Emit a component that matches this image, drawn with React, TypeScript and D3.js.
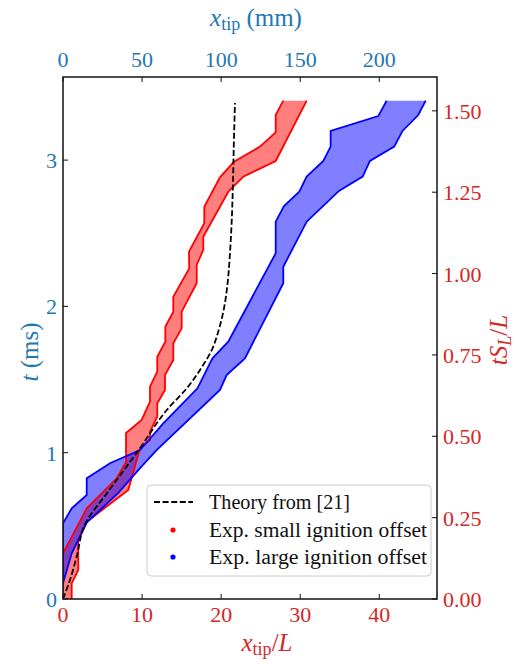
import React from "react";
import * as d3 from "d3";

// Flame tip position x_tip/L versus time t (ms); bands are bounded by left/right edges.
// Each edge: [x_tip/L, t (ms)] from bottom to top.
const redLeft: [number, number][] = [
  [0, 0], [0, 0.312], [3.0, 0.62], [6.79, 0.825], [7.97, 0.936], [7.97, 1.135],
  [9.95, 1.224], [11.0, 1.349], [11.0, 1.451], [11.92, 1.554], [11.92, 1.656],
  [12.94, 1.759], [12.94, 1.861], [13.95, 1.964], [13.95, 2.066], [15.97, 2.26],
  [15.93, 2.374], [17.87, 2.568], [17.87, 2.681], [19.85, 2.882], [21.62, 2.989],
  [24.91, 3.092], [26.9, 3.19], [26.9, 3.308], [27.86, 3.406],
];
const redRight: [number, number][] = [
  [1.1, 0], [1.1, 0.107], [1.93, 0.198], [1.93, 0.403], [3.0, 0.528], [8.26, 0.745],
  [9.74, 1.03], [11.0, 1.087], [11.0, 1.144], [11.92, 1.246], [11.92, 1.338],
  [12.9, 1.429], [12.9, 1.531], [13.95, 1.634], [13.95, 1.748], [15.01, 1.85],
  [15.01, 1.964], [16.91, 2.158], [16.91, 2.283], [17.74, 2.386], [17.74, 2.476],
  [20.9, 2.784], [22.8, 2.887], [26.9, 2.994], [30.82, 3.406],
];
const blueLeft: [number, number][] = [
  [0, 0.107], [0, 0.517], [1.1, 0.62], [3.0, 0.711], [3.0, 0.825], [5.94, 0.928],
  [9.74, 1.018], [12.68, 1.201], [17.0, 1.44], [18.9, 1.645], [20.9, 1.759],
  [26.9, 2.363], [26.9, 2.579], [27.95, 2.686], [29.88, 2.784], [30.82, 2.887],
  [32.92, 2.994], [33.85, 3.092], [33.85, 3.2], [39.87, 3.301], [40.93, 3.406],
];
const blueRight: [number, number][] = [
  [0, 0.107], [1.1, 0.312], [3.0, 0.523], [6.99, 0.725], [9.74, 0.895], [11.87, 1.02],
  [19.85, 1.429], [20.7, 1.531], [23.01, 1.645], [27.86, 2.158], [27.86, 2.271],
  [30.82, 2.579], [34.9, 2.789], [37.9, 2.887], [38.82, 2.994], [41.89, 3.092],
  [42.96, 3.201], [44.93, 3.308], [45.87, 3.406],
];
// Theory curve from [21]
const theory: [number, number][] = [
  [0, 0], [0.88, 0.13], [1.73, 0.29], [2.77, 0.51], [5.51, 0.72], [9.6, 1.02],
  [13.1, 1.29], [15.8, 1.45], [17.5, 1.58], [18.8, 1.7], [19.7, 1.84], [20.3, 1.97],
  [20.8, 2.15], [21.1, 2.35], [21.35, 2.6], [21.5, 2.85], [21.6, 3.1], [21.75, 3.39],
];

const bottomTicks = [0, 10, 20, 30, 40];
const topTicks = [0, 50, 100, 150, 200];
const leftTicks = [0, 1, 2, 3];
const rightTicks = [0, 0.25, 0.5, 0.75, 1.0, 1.25, 1.5];

const legendLabels = ["Theory from [21]", "Exp. small ignition offset", "Exp. large ignition offset"];
const legendWidths = [141, 218, 218];

const W = 517;
const H = 664;
const M = { left: 63, right: 437, top: 77, bottom: 599 };
const BLUE_TXT = "#1f77b4";
const RED_TXT = "#d62728";
const FONT = "'Liberation Serif', 'Times New Roman', serif";

export default function App() {
  const x = d3.scaleLinear().domain([0, 47.3]).range([M.left, M.right]);
  const xTop = d3.scaleLinear().domain([0, 47.3 * 5]).range([M.left, M.right]);
  const y = d3.scaleLinear().domain([0, 3.568]).range([M.bottom, M.top]);
  const yR = d3.scaleLinear().domain([0, 1.604]).range([M.bottom, M.top]);

  const line = d3.line<[number, number]>().x((d) => x(d[0])).y((d) => y(d[1]));
  const theoryLine = d3
    .line<[number, number]>()
    .x((d) => x(d[0]))
    .y((d) => y(d[1]))
    .curve(d3.curveMonotoneY);
  const band = (l: [number, number][], r: [number, number][]) =>
    line([...l, ...r.slice().reverse()]) + "Z";

  const tl = 5;
  const fs = 22;
  const lfs = 25;
  const sw = 1.8;

  return (
    <svg
      width={W}
      height={H}
      style={{ position: "absolute", left: 0, top: 0, background: "#fff" }}
      fontFamily={FONT}
    >
      <rect width={W} height={H} fill="#fff" />
      <defs>
        <clipPath id="plot">
          <rect x={M.left} y={M.top} width={M.right - M.left} height={M.bottom - M.top} />
        </clipPath>
      </defs>

      <g clipPath="url(#plot)">
        <path d={band(redLeft, redRight)} fill="#ff0000" fillOpacity={0.5} />
        <path d={band(blueLeft, blueRight)} fill="#0000ff" fillOpacity={0.5} />
        <path d={line(redLeft)!} fill="none" stroke="#ff0000" strokeWidth={sw} />
        <path d={line(redRight)!} fill="none" stroke="#ff0000" strokeWidth={sw} />
        <path d={line(blueLeft)!} fill="none" stroke="#0000ff" strokeWidth={sw} />
        <path d={line(blueRight)!} fill="none" stroke="#0000ff" strokeWidth={sw} />
        <path
          d={theoryLine(theory)!}
          fill="none"
          stroke="#000"
          strokeWidth={sw}
          strokeDasharray="6,2.6"
        />
      </g>

      {/* frame */}
      <rect
        x={M.left}
        y={M.top}
        width={M.right - M.left}
        height={M.bottom - M.top}
        fill="none"
        stroke="#111"
        strokeWidth={1.5}
      />

      {/* bottom axis */}
      {bottomTicks.map((v) => (
        <g key={"b" + v}>
          <line x1={x(v)} x2={x(v)} y1={M.bottom} y2={M.bottom - tl} stroke="#111" strokeWidth={1} />
          <text x={x(v)} y={M.bottom + 23} textAnchor="middle" fontSize={fs} fill={RED_TXT}>
            {v}
          </text>
        </g>
      ))}
      {/* top axis */}
      {topTicks.map((v) => (
        <g key={"t" + v}>
          <line x1={xTop(v)} x2={xTop(v)} y1={M.top} y2={M.top + tl} stroke="#111" strokeWidth={1} />
          <text x={xTop(v)} y={M.top - 10} textAnchor="middle" fontSize={fs} fill={BLUE_TXT}>
            {v}
          </text>
        </g>
      ))}
      {/* left axis */}
      {leftTicks.map((v) => (
        <g key={"l" + v}>
          <line x1={M.left} x2={M.left + tl} y1={y(v)} y2={y(v)} stroke="#111" strokeWidth={1} />
          <text x={M.left - 6} y={y(v) + 8} textAnchor="end" fontSize={fs} fill={BLUE_TXT}>
            {v}
          </text>
        </g>
      ))}
      {/* right axis */}
      {rightTicks.map((v) => (
        <g key={"r" + v}>
          <line x1={M.right} x2={M.right - tl} y1={yR(v)} y2={yR(v)} stroke="#111" strokeWidth={1} />
          <text x={M.right + 6} y={yR(v) + 8} textAnchor="start" fontSize={fs} fill={RED_TXT}>
            {v.toFixed(2)}
          </text>
        </g>
      ))}

      {/* axis labels */}
      <text x={256} y={26} textAnchor="middle" fontSize={lfs} fill={BLUE_TXT}>
        <tspan fontStyle="italic">x</tspan>
        <tspan fontSize={18} dy={4}>tip</tspan>
        <tspan dy={-4}> (mm)</tspan>
      </text>
      <text x={267} y={651} textAnchor="middle" fontSize={lfs} fill={RED_TXT}>
        <tspan fontStyle="italic">x</tspan>
        <tspan fontSize={18} dy={4}>tip</tspan>
        <tspan dy={-4}>/</tspan>
        <tspan fontStyle="italic">L</tspan>
      </text>
      <text
        transform={`translate(38, 352) rotate(-90)`}
        textAnchor="middle"
        fontSize={lfs}
        fill={BLUE_TXT}
      >
        <tspan fontStyle="italic">t</tspan>
        <tspan> (ms)</tspan>
      </text>
      <text
        transform={`translate(507, 340) rotate(-90)`}
        textAnchor="middle"
        fontSize={lfs}
        fill={RED_TXT}
      >
        <tspan fontStyle="italic">tS</tspan>
        <tspan fontStyle="italic" fontSize={18} dy={4}>L</tspan>
        <tspan dy={-4}>/</tspan>
        <tspan fontStyle="italic">L</tspan>
      </text>

      {/* legend */}
      <g>
        <rect x={147} y={485} width={284} height={91} rx={4} fill="#fff" fillOpacity={0.8} stroke="#ccc" strokeWidth={1} />
        <line x1={154} x2={193} y1={502} y2={502} stroke="#000" strokeWidth={sw} strokeDasharray="6,2.6" />
        <circle cx={173} cy={530} r={2.6} fill="#ff0000" />
        <circle cx={173} cy={557} r={2.6} fill="#0000ff" />
        {legendLabels.map((s, i) => (
          <text
            key={s}
            x={209}
            y={509 + i * 27.5}
            fontSize={20.5}
            fill="#111"
            textLength={legendWidths[i]}
            lengthAdjust="spacingAndGlyphs"
          >
            {s}
          </text>
        ))}
      </g>
    </svg>
  );
}
